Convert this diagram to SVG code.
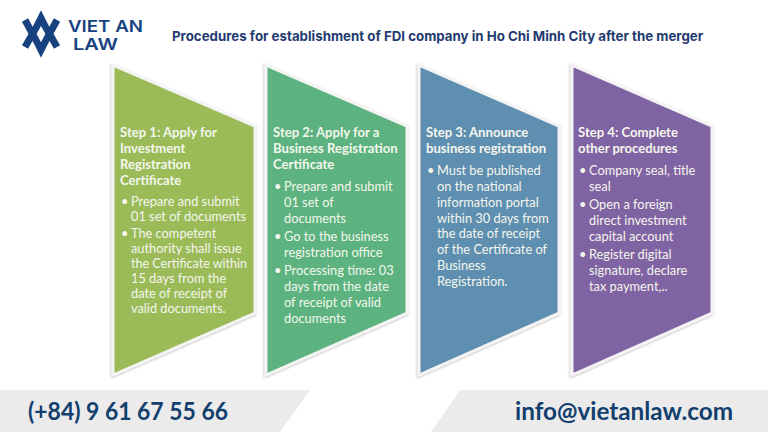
<svg xmlns="http://www.w3.org/2000/svg" width="768" height="432" viewBox="0 0 768 432">
<style>
.s{stroke:#f4f4f4;stroke-width:3;stroke-linejoin:miter;filter:url(#sh)}
text{font-family:"Lato","Liberation Sans",sans-serif;fill:#f4f6ee}
.h{font-size:13.1px;font-weight:700}
.b{font-size:12.8px}
.c{font-size:25px;font-weight:700;fill:#123f6d}
.t{font-size:13.3px;font-weight:700;fill:#1f3b70;font-family:"Inter","Liberation Sans",sans-serif}
.l{font-family:"Inter","Liberation Sans",sans-serif;font-weight:600;fill:#17427f;font-size:16.5px}
.m{fill:none;stroke:#17427f;stroke-width:7;stroke-linejoin:miter;stroke-miterlimit:6}
</style>
<defs><filter id="sh" x="-10%" y="-10%" width="120%" height="120%"><feDropShadow dx="-0.5" dy="1" stdDeviation="1.2" flood-color="#000" flood-opacity=".3"/></filter></defs>
<rect width="768" height="432" fill="#fff"/>
<g id="logo">
<polyline class="m" points="25,20 37,42 41,50 45,42 57,20"/>
<polyline class="m" points="25,47 37,26 41,18 45,26 57,47"/>
<text class="l" x="68" y="31.5" textLength="75" lengthAdjust="spacingAndGlyphs">VIET AN</text>
<text class="l" x="73" y="50" textLength="45" lengthAdjust="spacingAndGlyphs">LAW</text>
</g>
<text id="title" class="t" x="172" y="40.5">Procedures for establishment of FDI company in Ho Chi Minh City after the merger</text>
<g id="step1">
<polygon class="s" fill="#9bbb59" points="113,65 255,126 255,313 113,375"/>
<text class="h"><tspan x="120" y="137">Step 1: Apply for</tspan><tspan x="120" y="153">Investment</tspan><tspan x="120" y="169">Registration</tspan><tspan x="120" y="185">Certificate</tspan></text>
<text class="b"><tspan x="121" y="206">•</tspan><tspan x="131" y="206">Prepare and submit</tspan><tspan x="131" y="221">01 set of documents</tspan><tspan x="121" y="238">•</tspan><tspan x="131" y="238">The competent</tspan><tspan x="131" y="253">authority shall issue</tspan><tspan x="131" y="268" textLength="116" lengthAdjust="spacingAndGlyphs">the Certificate within</tspan><tspan x="131" y="283">15 days from the</tspan><tspan x="131" y="298">date of receipt of</tspan><tspan x="131" y="313">valid documents.</tspan></text>
</g>
<g id="step2">
<polygon class="s" fill="#5bb37f" points="266,65 407,126 407,313 266,375"/>
<text class="h"><tspan x="273" y="137">Step 2: Apply for a</tspan><tspan x="273" y="153">Business Registration</tspan><tspan x="273" y="169">Certificate</tspan></text>
<text class="b"><tspan x="274" y="191">•</tspan><tspan x="284" y="191">Prepare and submit</tspan><tspan x="284" y="207">01 set of</tspan><tspan x="284" y="223">documents</tspan><tspan x="274" y="241">•</tspan><tspan x="284" y="241">Go to the business</tspan><tspan x="284" y="257">registration office</tspan><tspan x="274" y="275">•</tspan><tspan x="284" y="275">Processing time: 03</tspan><tspan x="284" y="291">days from the date</tspan><tspan x="284" y="307">of receipt of valid</tspan><tspan x="284" y="323">documents</tspan></text>
</g>
<g id="step3">
<polygon class="s" fill="#5f8fb0" points="419,65 559,126 559,313 419,375"/>
<text class="h"><tspan x="426" y="137">Step 3: Announce</tspan><tspan x="426" y="153">business registration</tspan></text>
<text class="b"><tspan x="427" y="175">•</tspan><tspan x="437" y="175">Must be published</tspan><tspan x="437" y="191">on the national</tspan><tspan x="437" y="207">information portal</tspan><tspan x="437" y="223">within 30 days from</tspan><tspan x="437" y="238">the date of receipt</tspan><tspan x="437" y="254">of the Certificate of</tspan><tspan x="437" y="270">Business</tspan><tspan x="437" y="286">Registration.</tspan></text>
</g>
<g id="step4">
<polygon class="s" fill="#8064a2" points="572,65 712,126 712,313 572,375"/>
<text class="h"><tspan x="578" y="137">Step 4: Complete</tspan><tspan x="578" y="153">other procedures</tspan></text>
<text class="b"><tspan x="579" y="175">•</tspan><tspan x="589" y="175">Company seal, title</tspan><tspan x="589" y="191">seal</tspan><tspan x="579" y="209">•</tspan><tspan x="589" y="209">Open a foreign</tspan><tspan x="589" y="225">direct investment</tspan><tspan x="589" y="241">capital account</tspan><tspan x="579" y="259">•</tspan><tspan x="589" y="259">Register digital</tspan><tspan x="589" y="275">signature, declare</tspan><tspan x="589" y="291">tax payment,..</tspan></text>
</g>
<g id="phone">
<polygon fill="#ebebeb" points="0,390 310,390 280,432 0,432"/>
<text class="c" x="28" y="420" textLength="200" lengthAdjust="spacingAndGlyphs">(+84) 9 61 67 55 66</text>
</g>
<g id="email">
<polygon fill="#ebebeb" points="460,390 768,390 768,432 431,432"/>
<text class="c" x="515" y="420" textLength="218" lengthAdjust="spacingAndGlyphs">info@vietanlaw.com</text>
</g>
</svg>
